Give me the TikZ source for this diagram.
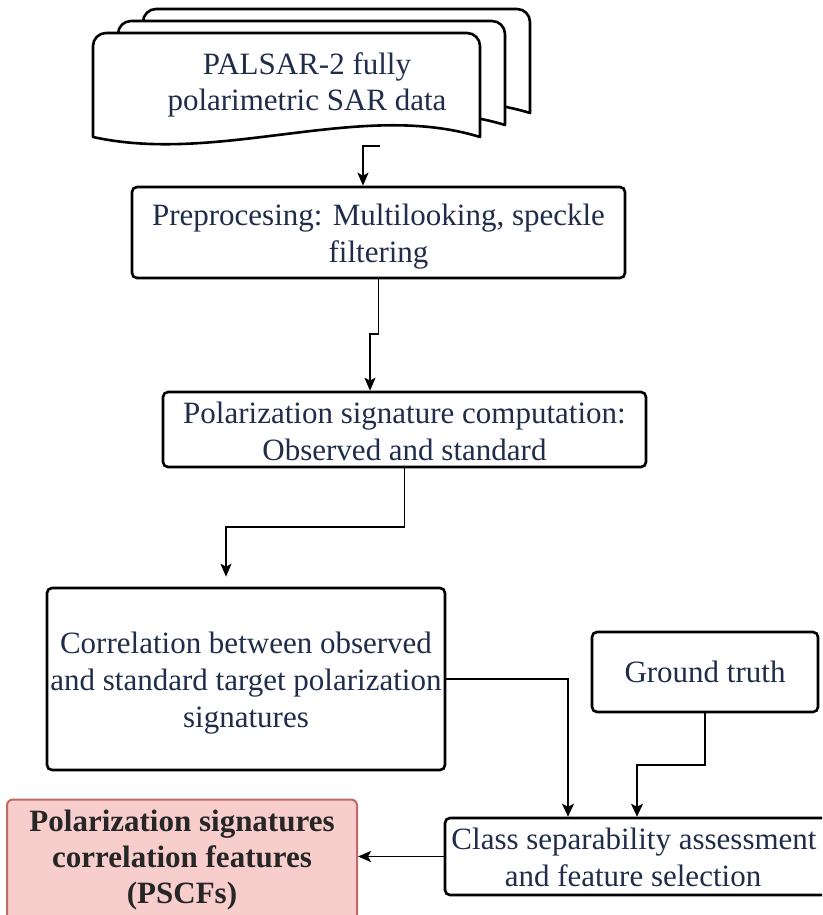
\documentclass[tikz,border=0pt]{standalone}
\usepackage{fontspec}
\setmainfont{Liberation Serif}
\usetikzlibrary{arrows.meta,calc}
\definecolor{txt}{HTML}{1F2D4A}
\definecolor{pinkfill}{HTML}{F8CECC}
\definecolor{pinkline}{HTML}{C06A66}
\newcommand{\mvtext}[3]{\raisebox{#1}[\height][\depth]{\parbox{#2}{\centering #3}}}
\begin{document}
\begin{tikzpicture}[x=1pt,y=-1pt,
  box/.style={draw=black, line width=2.6pt, rounded corners=5pt, fill=white,
    text=txt, align=center, inner sep=0pt,
    font=\fontsize{31}{36.5}\selectfont},
  docshape/.style={draw=black, line width=2.6pt, fill=white, line join=round},
  conn/.style={draw=black, line width=1.8pt, -{Stealth[length=13pt,width=11pt,inset=3pt]}},
  thinconn/.style={draw=black, line width=1.3pt, -{Stealth[length=13pt,width=12pt,inset=3pt]}}]
\useasboundingbox (0,0) rectangle (822,915);
\clip (0,0) rectangle (822,915);
\fill[white] (0,0) rectangle (822,915);

% stacked document shape (three copies)
\foreach \dx/\dy in {50/-24, 25/-12, 0/0}{
  \begin{scope}[shift={(\dx,\dy)}]
    \path[docshape] (93,137) [rounded corners=13pt] -- (93,33) -- (480,33) [sharp corners] -- (480,137)
      .. controls (360,100) and (220,165) .. (93,137) -- cycle;
  \end{scope}
}
\node[text=txt, align=center, font=\fontsize{31}{36}\selectfont] (doc) at (307,85)
  {PALSAR-2 fully\\ polarimetric SAR data};

\node[box, minimum width=493pt, minimum height=91pt] (pre) at (378.5,232.5)
  {\mvtext{-4pt}{480pt}{Preprocesing: Multilooking, speckle\\ filtering}};
\node[box, minimum width=483pt, minimum height=75pt] (psc) at (404.5,429.5)
  {\mvtext{-2pt}{480pt}{Polarization signature computation:\\ Observed and standard}};
\node[box, minimum width=398pt, minimum height=182pt] (cor) at (246,679)
  {\mvtext{-4pt}{395pt}{\fontsize{31}{37}\selectfont Correlation between observed\\ and standard target polarization\\ signatures}};
\node[box, minimum width=226pt, minimum height=80pt] (gt) at (705,672)
  {Ground truth};
\node[box, minimum width=384pt, minimum height=77pt] (cls) at (637,856.5)
  {\mvtext{-1pt}{380pt}{\hspace*{-6pt}Class separability assessment\\ \hspace*{-8pt}and feature selection}};
\node[draw=pinkline, fill=pinkfill, line width=2pt, rounded corners=6pt,
  minimum width=350pt, minimum height=125pt, inner sep=0pt, align=center,
  text=black!85, font=\bfseries\fontsize{31}{36}\selectfont] (pscf) at (182,862)
  {\mvtext{2pt}{345pt}{Polarization signatures\\ correlation features\\ (PSCFs)}};

% connectors
\coordinate (c1) at (380,146);
\coordinate (c1b) at (363,146);
\draw[conn] (c1) -- (c1b) -- (c1b |- pre.north);
\coordinate (k2) at (370,334);
\draw[conn] (pre.south) |- (k2) -- (k2 |- psc.north);
\coordinate (k3) at (226,527);
\draw[conn, shorten >=10pt] (psc.south) |- (k3) -- (k3 |- cor.north);
\coordinate (k4) at (568,0);
\draw[thinconn] (cor.east) -| (k4 |- cls.north);
\coordinate (k5) at (637,765);
\draw[thinconn] (gt.south) |- (k5) -- (k5 |- cls.north);
\draw[conn] (cls.west) -- (cls.west -| pscf.east);
\end{tikzpicture}
\end{document}
